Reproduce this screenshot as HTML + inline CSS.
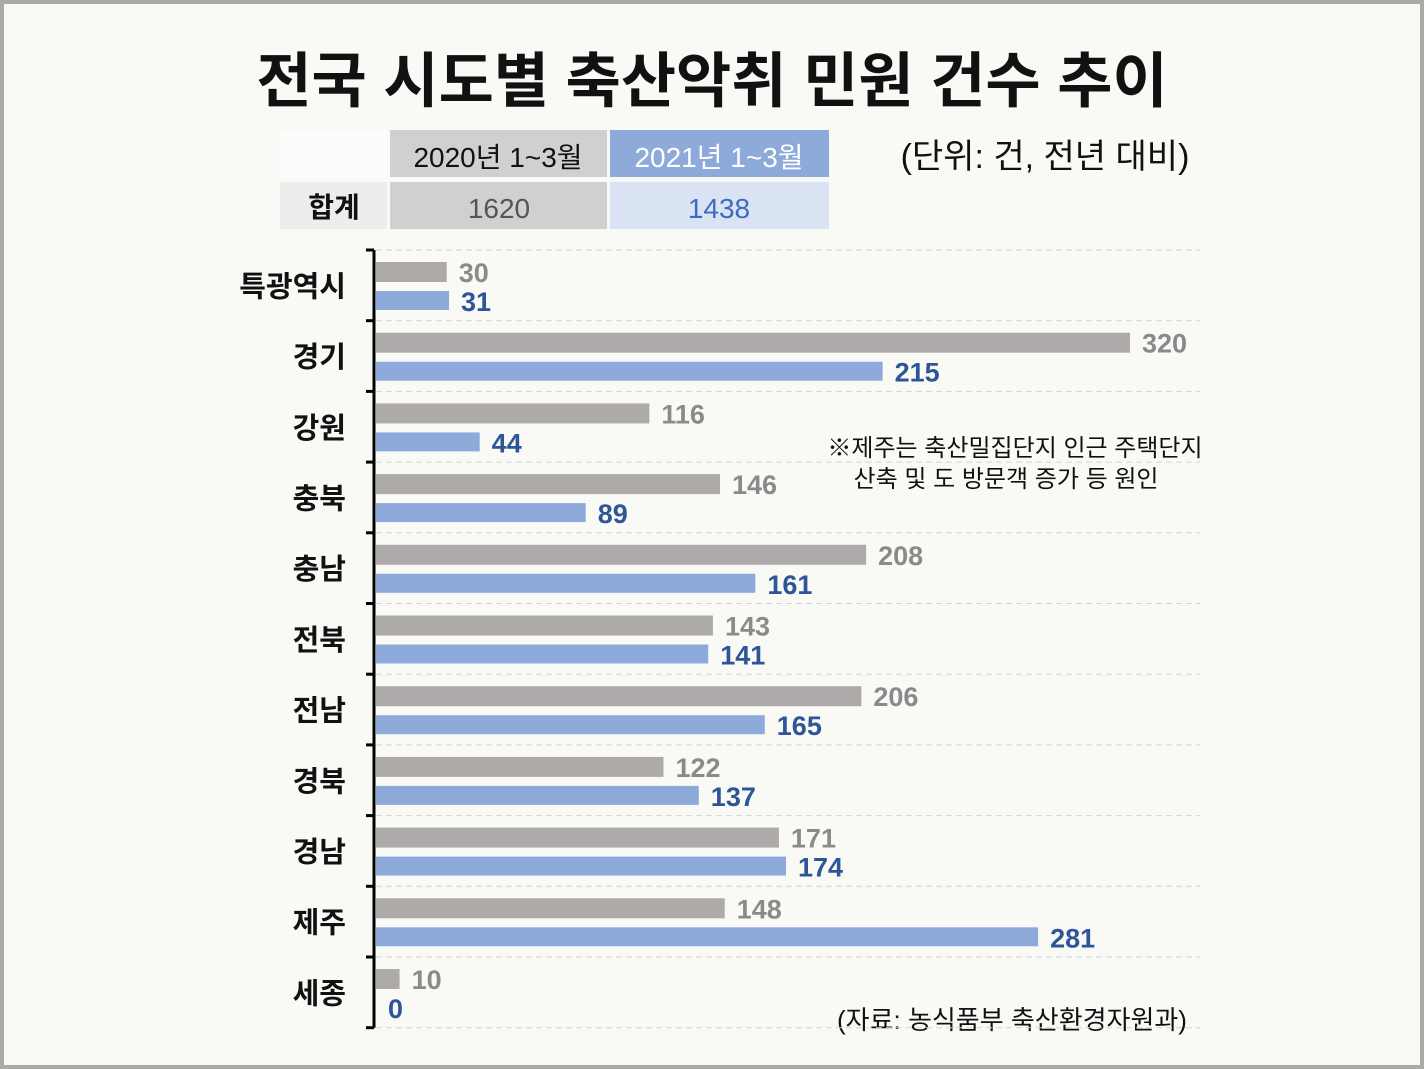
<!DOCTYPE html>
<html><head><meta charset="utf-8"><style>
body{margin:0;width:1424px;height:1069px;overflow:hidden;background:#fff}
svg{display:block;font-family:"Liberation Sans","Noto Sans CJK KR",sans-serif}
</style></head><body>
<svg id="c" width="1424" height="1069">
<rect x="2" y="2" width="1420" height="1065" fill="#f9f9f6" stroke="#aaa9a8" stroke-width="4"/>
<text x="712" y="102" text-anchor="middle" font-size="60" font-weight="bold" fill="#111">전국 시도별 축산악취 민원 건수 추이</text>
<g>
<rect x="280" y="130" width="107" height="47" fill="#fcfcfc"/>
<rect x="390" y="130" width="217" height="47" fill="#d1d0d0"/>
<rect x="610" y="130" width="219" height="47" fill="#8eaadb"/>
<rect x="280" y="182" width="107" height="47" fill="#ededed"/>
<rect x="390" y="182" width="217" height="47" fill="#d1d0d0"/>
<rect x="610" y="182" width="219" height="47" fill="#dae3f3"/>
<text x="498" y="167" text-anchor="middle" font-size="28" fill="#111">2020년 1~3월</text>
<text x="719" y="167" text-anchor="middle" font-size="28" fill="#fff">2021년 1~3월</text>
<text x="334" y="217" text-anchor="middle" font-size="28" font-weight="bold" fill="#111">합계</text>
<text x="499" y="218" text-anchor="middle" font-size="28" fill="#555">1620</text>
<text x="719" y="218" text-anchor="middle" font-size="28" fill="#3c6cc0">1438</text>
</g>
<text x="1045" y="168" text-anchor="middle" font-size="34" fill="#111">(단위: 건, 전년 대비)</text>
<text x="1015" y="456" text-anchor="middle" font-size="24" fill="#111">※제주는 축산밀집단지 인근 주택단지</text>
<text x="1006" y="487" text-anchor="middle" font-size="24" fill="#111">산축 및 도 방문객 증가 등 원인</text>
<text x="1012" y="1029" text-anchor="middle" font-size="26" fill="#111">(자료: 농식품부 축산환경자원과)</text>
<g id="plot"></g>
</svg>
<script>
const categories=["특광역시","경기","강원","충북","충남","전북","전남","경북","경남","제주","세종"];
const values2020=[30,320,116,146,208,143,206,122,171,148,10];
const values2021=[31,215,44,89,161,141,165,137,174,281,0];
const NS="http://www.w3.org/2000/svg";
const g=document.getElementById("plot");
const x0=376,xs=754/320,y0=250,gh=70.7;
const xScale=v=>x0+v*xs;
const yScale=i=>y0+i*gh;
function mk(t,a){const e=document.createElementNS(NS,t);for(const k in a)e.setAttribute(k,a[k]);g.appendChild(e);return e;}
for(let i=0;i<=categories.length;i++){
 const gl=mk("line",{x1:x0,x2:1200,y1:yScale(i),y2:yScale(i),stroke:"#d4d4d4","stroke-dasharray":"6,4"});
 
 
 const tk=mk("line",{x1:366,x2:374,y1:yScale(i),y2:yScale(i),stroke:"#000","stroke-width":3});
 
 
}
const ax=mk("line",{x1:374,x2:374,y1:yScale(0),y2:yScale(categories.length),stroke:"#000","stroke-width":3});


categories.forEach((c,i)=>{
 const t=mk("text",{x:346,y:yScale(i)+gh/2+11,"text-anchor":"end","font-size":29,"font-weight":"bold",fill:"#111"});
 t.textContent=c;
 
 
 const b1=mk("rect",{x:x0,y:yScale(i)+12,width:values2020[i]*xs,height:20,fill:"#aeaaa9"});
 
 
 const l1=mk("text",{x:xScale(values2020[i])+12,y:yScale(i)+32,"font-size":27,"font-weight":"bold",fill:"#8a8a8a"});
 l1.textContent=values2020[i];
 
 
 const b2=mk("rect",{x:x0,y:yScale(i)+41,width:values2021[i]*xs,height:19,fill:"#8eaadb"});
 
 
 const l2=mk("text",{x:xScale(values2021[i])+12,y:yScale(i)+61,"font-size":27,"font-weight":"bold",fill:"#2e5597"});
 l2.textContent=values2021[i];
 
 
});
</script>
</body></html>
